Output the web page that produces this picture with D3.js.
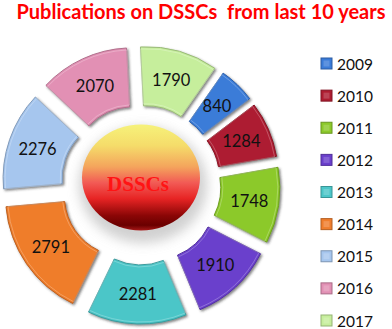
<!DOCTYPE html>
<html>
<head>
<meta charset="utf-8">
<script src="https://cdn.jsdelivr.net/npm/d3@7"></script>
<style>
  body { margin: 0; background: #fff; }
  svg { display: block; }
</style>
</head>
<body>
<div id="container"></div>
<script>
var width = 392;
var height = 329;

// data
var years = ["2009", "2010", "2011", "2012", "2013", "2014", "2015", "2016", "2017"];
var counts = [840, 1284, 1748, 1910, 2281, 2791, 2276, 2070, 1790];
var colors = ["#3a7bd8", "#ad1c30", "#8cc92a", "#6a3fcc", "#4cc6c8", "#ef7d2c", "#a6c6ee", "#e290b4", "#c6ee9c"];

var title = "Publications on DSSCs  from last 10 years";
var centerLabel = "DSSCs";

var cx = 141, cy = 185;
var inner = 60, outer = 119;
var explode = 20;
var startDeg = 35;

var svg = d3.create("svg")
    .attr("width", width)
    .attr("height", height);

var defs = svg.append("defs");

var shadow = defs.append("filter").attr("id", "shadow")
    .attr("x", "-20%").attr("y", "-20%").attr("width", "140%").attr("height", "140%");
shadow.append("feDropShadow")
    .attr("dx", 1.5).attr("dy", 1.5).attr("stdDeviation", 0.8)
    .attr("flood-color", "#333").attr("flood-opacity", 0.6);

var halo = defs.append("filter").attr("id", "halo")
    .attr("x", "-50%").attr("y", "-50%").attr("width", "200%").attr("height", "200%");
halo.append("feGaussianBlur").attr("stdDeviation", 6);

var grad = defs.append("linearGradient").attr("id", "ball")
    .attr("x1", 0).attr("y1", 0).attr("x2", 0).attr("y2", 1);
[[0, "#f6f27a"], [0.2, "#f5dc6a"], [0.4, "#f4a45c"], [0.55, "#f25a55"],
 [0.7, "#e72424"], [0.86, "#8a0606"], [0.95, "#6a0000"], [1, "#a81818"]]
  .forEach(function(s) {
    grad.append("stop").attr("offset", s[0]).attr("stop-color", s[1]);
  });

// title (keep the double space)
svg.append("text")
    .attr("x", 201).attr("y", 19)
    .attr("text-anchor", "middle")
    .attr("font-family", "Lato, sans-serif")
    .attr("font-weight", "bold")
    .attr("font-size", 20)
    .attr("fill", "#ff0000")
    .style("white-space", "pre")
    .text(title);

// pie
var data = years.map(function(y, i) { return { year: y, value: counts[i], color: colors[i] }; });

var start = startDeg * Math.PI / 180;
var pie = d3.pie()
    .sort(null)
    .value(function(d) { return d.value; })
    .startAngle(start)
    .endAngle(start + 2 * Math.PI);

var arc = d3.arc().innerRadius(inner).outerRadius(outer);

var g = svg.append("g").attr("transform", "translate(" + cx + "," + cy + ")");

var slices = g.selectAll(".slice").data(pie(data)).enter().append("g")
    .attr("class", "slice")
    .attr("transform", function(d) {
	var mid = (d.startAngle + d.endAngle) / 2;
	return "translate(" + (explode * Math.sin(mid)) + "," + (-explode * Math.cos(mid)) + ")";
    });

slices.append("path")
    .attr("d", arc)
    .attr("fill", function(d) { return d.data.color; })
    .attr("stroke", function(d) { return d3.color(d.data.color).darker(0.7); })
    .attr("stroke-width", 1)
    .attr("filter", "url(#shadow)");

// light inner bevel
slices.append("path")
    .attr("d", d3.arc().innerRadius(inner + 2).outerRadius(outer - 2))
    .attr("fill", "none")
    .attr("stroke", "#fff")
    .attr("stroke-opacity", 0.25)
    .attr("stroke-width", 1);

slices.append("text")
    .attr("transform", function(d) {
	var c = arc.centroid(d);
	return "translate(" + c[0] + "," + c[1] + ")";
    })
    .attr("dy", "0.36em")
    .attr("text-anchor", "middle")
    .attr("font-family", "Lato, sans-serif")
    .attr("font-size", 16.5)
    .attr("fill", "#111")
    .text(function(d) { return d.data.value; });

// center ball
svg.append("ellipse")
    .attr("cx", cx + 2).attr("cy", 185)
    .attr("rx", 64).attr("ry", 58)
    .attr("fill", "#bdbdbd")
    .attr("opacity", 0.7)
    .attr("filter", "url(#halo)");

svg.append("ellipse")
    .attr("cx", cx).attr("cy", 177.5)
    .attr("rx", 59).attr("ry", 53)
    .attr("fill", "url(#ball)");

svg.append("text")
    .attr("x", 138).attr("y", 191)
    .attr("text-anchor", "middle")
    .attr("font-family", "Liberation Serif, Times New Roman, serif")
    .attr("font-weight", "bold")
    .attr("font-size", 21)
    .attr("fill", "#ff1414")
    .text(centerLabel);

// legend
var legend = svg.append("g");
var ly = d3.scalePoint().domain(years).range([63.5, 320.5]);

var items = legend.selectAll(".item").data(data).enter().append("g")
    .attr("class", "item")
    .attr("transform", function(d) { return "translate(321," + ly(d.year) + ")"; });

items.append("rect")
    .attr("x", 0).attr("y", -5.5)
    .attr("width", 11).attr("height", 11)
    .attr("fill", function(d) { return d.color; })
    .attr("stroke", function(d) { return d3.color(d.color).darker(0.8); })
    .attr("stroke-width", 1);

items.append("rect")
    .attr("x", 2.5).attr("y", -3)
    .attr("width", 6).attr("height", 6)
    .attr("fill", "#fff")
    .attr("opacity", 0.18);

items.append("text")
    .attr("x", 16).attr("y", 6)
    .attr("font-family", "Lato, sans-serif")
    .attr("font-size", 15.5)
    .attr("fill", "#111")
    .text(function(d) { return d.year; });

document.getElementById("container").append(svg.node());
</script>
</body>
</html>
